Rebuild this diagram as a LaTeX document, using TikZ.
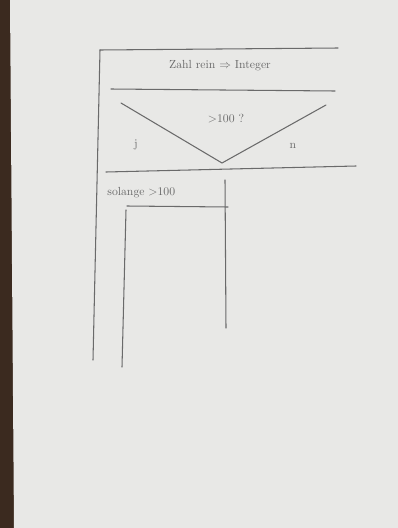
\documentclass[tikz,border=0pt]{standalone}
\usepackage{amsmath,amssymb}
\usepackage{xcolor}
\usetikzlibrary{calc,positioning}
\definecolor{paperc}{HTML}{E8E8E6}
\definecolor{tablec}{HTML}{3B2A1F}
\definecolor{penc}{HTML}{6A6A6A}
\tikzset{
  pen/.style={penc,line width=0.9pt,line cap=round},
  hand/.style={penc,font=\normalsize,inner sep=1pt}
}
\begin{document}
\begin{tikzpicture}[x=0.03cm,y=-0.03cm]
\useasboundingbox (0,0) rectangle (398,528);
% table and paper
\fill[tablec] (0,0) rectangle (398,528);
\fill[paperc] (10,0) -- (398,0) -- (398,528) -- (14,528) -- cycle;
% outer block
\coordinate (tl) at (100,50);
\coordinate (tr) at (338,48);
\coordinate (bl) at (93,360);
\draw[pen] (tl) -- (tr);
\draw[pen] (tl) -- (bl);
% statement
\coordinate (s1) at (111,89);
\coordinate (s2) at (335,91);
\draw[pen] (s1) -- (s2);
\node[hand] (stmt) at (220,66) {Zahl rein $\Rightarrow$ Integer};
% decision
\coordinate (dl) at (121,103);
\coordinate (dv) at (222,163);
\coordinate (dr) at (326,105);
\draw[pen] (dl) -- (dv) -- (dr);
\node[hand] (cond) at (226,119) {$>$100 ?};
\node[hand] (yes) at (136,145) {j};
\node[hand] (no) at (293,146) {n};
\coordinate (e1) at (106,172);
\coordinate (e2) at (356,166);
\draw[pen] (e1) -- (e2);
% loop
\node[hand,anchor=west] (loop) at (106,193) {solange $>$100};
\coordinate (lt) at (225,180);
\coordinate (lb) at (226,328);
\draw[pen] (lt) -- (lb);
\coordinate (h1) at (127,206);
\coordinate (h2) at (228,207);
\draw[pen] (h1) -- (h2);
\coordinate (it) at (126,210);
\coordinate (ib) at (122,367);
\draw[pen] (it) -- (ib);
\end{tikzpicture}
\end{document}
